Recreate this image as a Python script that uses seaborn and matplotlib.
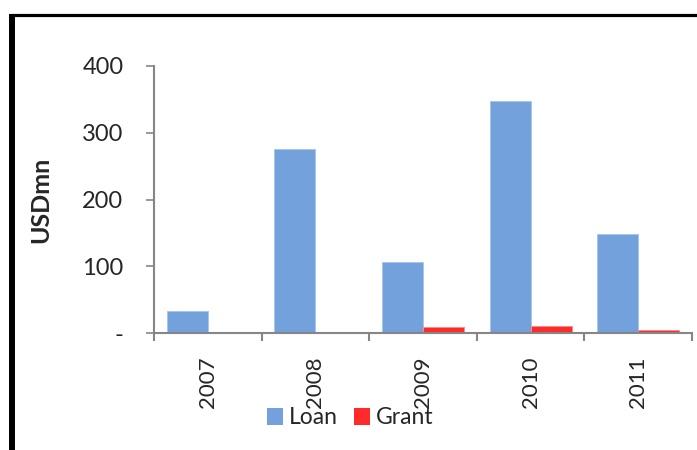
import matplotlib
matplotlib.use("Agg")
import matplotlib.pyplot as plt
import seaborn as sns
import pandas as pd
from matplotlib.lines import Line2D
from matplotlib.colors import to_hex
from matplotlib.ticker import FixedLocator, FixedFormatter, NullFormatter

years = ["2007", "2008", "2009", "2010", "2011"]
loan = [33, 275, 106, 348, 149]
grant = [0, 1.5, 9.5, 11, 5]
series = ["Loan", "Grant"]
ytick_vals = [0, 100, 200, 300, 400]
ytick_labels = ["-", "100", "200", "300", "400"]
ylabel = "USDmn"

df = pd.DataFrame({
    "Year": years * 2,
    "Value": loan + grant,
    "Type": [series[0]] * len(years) + [series[1]] * len(years),
})

sns.set_style("white")
plt.rcParams["font.family"] = ["Lato", "DejaVu Sans"]

fig = plt.figure(figsize=(6.97, 4.5), dpi=100)
ax = fig.add_axes([154 / 697, 117 / 450, 538 / 697, 267 / 450])

loan_c, grant_c = "#72A1DB", "#FF2A2A"
sns.barplot(data=df, x="Year", y="Value", hue="Type", order=years,
            hue_order=series, palette=[loan_c, grant_c], width=0.762,
            saturation=1, linewidth=0, ax=ax, legend=True)

edge_map = {to_hex(loan_c): "#A8C5EC", to_hex(grant_c): "#FF8A8A"}
for p in ax.patches:
    fc = to_hex(p.get_facecolor())
    if fc in edge_map:
        p.set_edgecolor(edge_map[fc])
        p.set_linewidth(0.7)

ax.set_xlim(-0.5, len(years) - 0.5)
ax.set_ylim(0, 400)
grey = "#868686"
for s in ["top", "right"]:
    ax.spines[s].set_visible(False)
for s in ["left", "bottom"]:
    ax.spines[s].set_color(grey)
    ax.spines[s].set_linewidth(1.5)

ax.yaxis.set_major_locator(FixedLocator(ytick_vals))
ax.yaxis.set_major_formatter(FixedFormatter(ytick_labels))
ax.tick_params(axis="y", direction="out", length=6, width=1.2, color=grey,
               labelsize=17, pad=16, left=True)

ax.set_xticks(range(len(years)))
ax.set_xticklabels(years, rotation=90, fontsize=16, va="top")
ax.tick_params(axis="x", which="major", length=0, pad=17)
ax.xaxis.set_minor_locator(FixedLocator([i - 0.5 for i in range(len(years) + 1)]))
ax.xaxis.set_minor_formatter(NullFormatter())
ax.tick_params(axis="x", which="minor", direction="out", length=6, width=1.5,
               color=grey, bottom=True)

ax.set_xlabel("")
ax.set_ylabel(ylabel, fontsize=18, fontweight="bold")
ax.yaxis.label.set_va("center")
ax.yaxis.label.set_ha("center")
ax.yaxis.set_label_coords((41 - 154) / 538, 0.5)

leg = ax.get_legend()
handles = leg.legend_handles
leg.remove()
fig.legend(handles, series, loc="center", bbox_to_anchor=(350 / 697, 1 - 418 / 450),
           ncol=2, frameon=False, fontsize=16.5, handlelength=0.7,
           handleheight=0.7, handletextpad=0.25, columnspacing=0.7,
           borderpad=0)

# chart frame (top and left border)
fig.add_artist(Line2D([9 / 697, 1.0], [1 - 15.3 / 450] * 2, color="black",
                      linewidth=2.3, transform=fig.transFigure, solid_capstyle="butt"))
fig.add_artist(Line2D([12 / 697] * 2, [0, 1 - 14 / 450], color="black",
                      linewidth=4.3, transform=fig.transFigure, solid_capstyle="butt"))

fig.savefig("out.png", dpi=100)
